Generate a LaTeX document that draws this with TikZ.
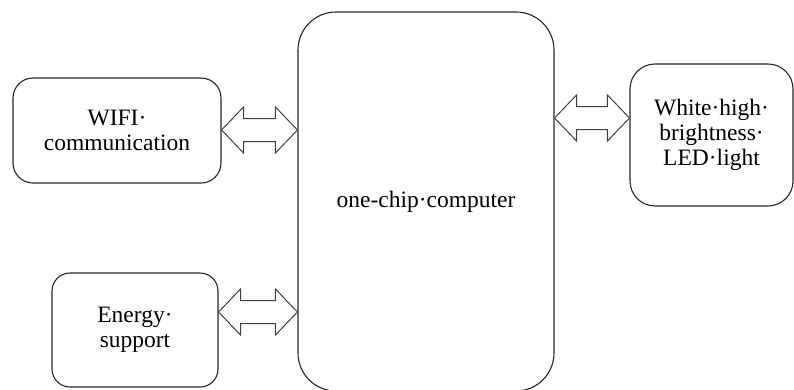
\documentclass[tikz,border=0pt]{standalone}
\usepackage{fontspec}
\setmainfont{Liberation Serif}
\usetikzlibrary{calc}
\tikzset{
  block/.style={draw=black!85, line width=1.1pt, align=center, inner sep=0pt,
    font=\fontsize{23.5}{25}\selectfont},
  link/.style={draw=black!75, line width=1pt, line join=miter, fill=white}
}
% hollow two-headed block arrow between two points at the same height
\newcommand{\dualarrow}[2]{%
  \draw[link] let \p1=(#1), \p2=(#2) in
    (\x1,\y1) -- (\x1+22pt,\y1+23pt) -- (\x1+22pt,\y1+11.5pt)
    -- (\x2-22pt,\y1+11.5pt) -- (\x2-22pt,\y1+23pt) -- (\x2,\y1)
    -- (\x2-22pt,\y1-23pt) -- (\x2-22pt,\y1-11.5pt)
    -- (\x1+22pt,\y1-11.5pt) -- (\x1+22pt,\y1-23pt) -- cycle;}
\begin{document}
\begin{tikzpicture}[x=1pt,y=-1pt]
\useasboundingbox (0,0) rectangle (794,389);

\node[block, rounded corners=38pt, minimum width=256pt, minimum height=379pt]
  (mcu) at (426,201.5) {one-chip·computer};
\node[block, rounded corners=20pt, minimum width=208pt, minimum height=105pt]
  (wifi) at (117,130.5) {WIFI·\\communication};
\node[block, rounded corners=18pt, minimum width=166pt, minimum height=114pt]
  (power) at (135,330) {Energy·\\support};
\node[block, rounded corners=25pt, minimum width=163pt, minimum height=142pt]
  (led) at (711.5,135) {White·high·\\brightness·\\LED·light};

\coordinate (wa) at (wifi.east |- 0,130);
\coordinate (wb) at (mcu.west |- 0,130);
\coordinate (pa) at (power.east |- 0,312);
\coordinate (pb) at (mcu.west |- 0,312);
\coordinate (la) at (mcu.east |- 0,118);
\coordinate (lb) at (led.west |- 0,118);

\dualarrow{wa}{wb}
\dualarrow{pa}{pb}
\dualarrow{la}{lb}
\end{tikzpicture}
\end{document}
